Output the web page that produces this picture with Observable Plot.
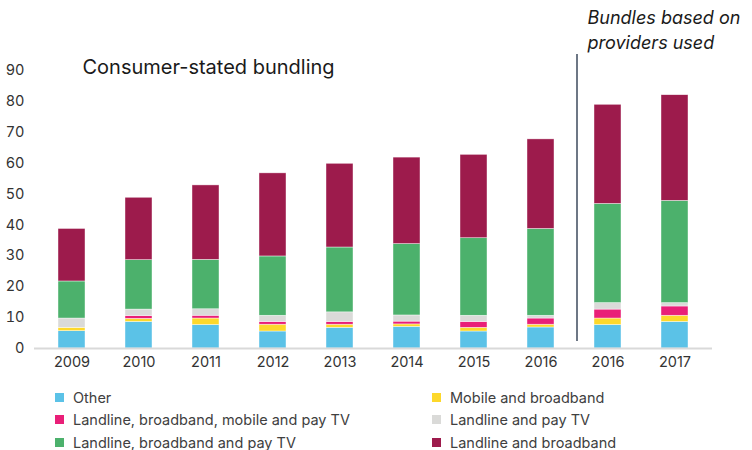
<!DOCTYPE html>
<html>
<head>
<meta charset="utf-8">
<script src="https://cdn.jsdelivr.net/npm/d3@7"></script>
<script src="https://cdn.jsdelivr.net/npm/@observablehq/plot@0.6"></script>
<style>
  html, body { margin: 0; padding: 0; background: #fff; }
  #wrap { position: relative; width: 752px; height: 450px; font-family: Inter, "Noto Sans", sans-serif; }
  #legend { position: absolute; left: 0; top: 386px; width: 752px; }
  .item { position: absolute; display: flex; align-items: center; font-size: 14.5px; color: #404040; height: 22px; white-space: nowrap; }
  .sw { width: 9px; height: 9px; margin-right: 9px; flex: none; }
</style>
</head>
<body>
<div id="wrap"><div id="chart"></div><div id="legend"></div></div>
<script>
// Categories (x keys) and their tick labels
const keys = ["2009", "2010", "2011", "2012", "2013", "2014", "2015", "2016a", "2016b", "2017"];
const tickLabels = ["2009", "2010", "2011", "2012", "2013", "2014", "2015", "2016", "2016", "2017"];

// Series (stack order bottom to top)
const series = [
  "Other",
  "Mobile and broadband",
  "Landline, broadband, mobile and pay TV",
  "Landline and pay TV",
  "Landline, broadband and pay TV",
  "Landline and broadband"
];
const colors = ["#5bc2e7", "#fdd82b", "#e91f78", "#dadad8", "#4cb16c", "#9d1b4c"];

// Values per series, one per category
const other        = [5.6, 8.6, 7.6, 5.5, 6.7, 7.0, 5.5, 6.8, 7.6, 8.6];
const mobileBB     = [1.1, 1.0, 2.1, 2.2, 1.0, 0.8, 1.2, 0.9, 2.1, 2.0];
const lbmPayTV     = [0.0, 0.9, 0.9, 0.9, 0.9, 0.9, 1.9, 2.0, 2.9, 3.0];
const landlinePay  = [3.0, 2.1, 2.1, 2.0, 3.1, 2.0, 2.0, 0.9, 2.1, 1.1];
const lbPayTV      = [12.0, 16.0, 16.0, 19.2, 21.0, 23.1, 25.1, 28.1, 32.1, 33.1];
const landlineBB   = [17.0, 20.2, 24.1, 26.9, 27.1, 28.0, 27.0, 29.0, 32.1, 34.2];

const seriesValues = [other, mobileBB, lbmPayTV, landlinePay, lbPayTV, landlineBB];

// Y axis ticks
const yTicks = [0, 10, 20, 30, 40, 50, 60, 70, 80, 90];

// Annotation texts
const leftTitle = "Consumer-stated bundling";
const rightTitle = "Bundles based on\nproviders used";

const data = [];
keys.forEach((k, i) => {
  series.forEach((s, j) => {
    data.push({key: k, series: s, value: seriesValues[j][i]});
  });
});

const labelOf = Object.fromEntries(keys.map((k, i) => [k, tickLabels[i]]));

const chart = Plot.plot({
  width: 752,
  height: 378,
  marginLeft: 34,
  marginRight: 40,
  marginTop: 70,
  marginBottom: 30,
  style: {fontFamily: "Inter, 'Noto Sans', sans-serif", fontSize: "14.5px", color: "#333", background: "#fff"},
  x: {domain: keys, paddingInner: 0.6, paddingOuter: 0.3, label: null, tickSize: 0, tickPadding: 8, tickFormat: d => labelOf[d]},
  y: {domain: [0, 90], ticks: yTicks, label: null, tickSize: 0, tickPadding: 10},
  color: {domain: series, range: colors},
  marks: [
    Plot.barY(data, {x: "key", y: "value", fill: "series", stroke: "white", strokeWidth: 0.6, strokeOpacity: 0.7}),
    Plot.ruleY([0], {stroke: "#d9d9d9", strokeWidth: 2}),
    Plot.ruleX(["2016b"], {dx: -31, y1: 2.3, y2: 95.2, stroke: "#3d4a5c", strokeWidth: 1.5}),
    Plot.text([leftTitle], {frameAnchor: "top-left", text: d => d, dx: 48, dy: -11, fontSize: 20, fill: "#1a1a1a", textAnchor: "start"}),
    Plot.text([rightTitle], {frameAnchor: "top-left", text: d => d, dx: 553, dy: -64, fontSize: 18, fontStyle: "italic", fill: "#1a1a1a", textAnchor: "start", lineAnchor: "top", lineHeight: 1.38})
  ]
});
document.getElementById("chart").appendChild(chart);

// Legend
const legendPos = [
  [55, 0], [432, 0],
  [55, 22], [432, 22],
  [55, 45], [432, 45]
];
const legendOrder = [0, 1, 2, 3, 4, 5];
const legend = document.getElementById("legend");
legendOrder.forEach((si, idx) => {
  const el = document.createElement("div");
  el.className = "item";
  el.style.left = legendPos[idx][0] + "px";
  el.style.top = legendPos[idx][1] + "px";
  el.innerHTML = `<span class="sw" style="background:${colors[si]}"></span><span>${series[si]}</span>`;
  legend.appendChild(el);
});
</script>
</body>
</html>
